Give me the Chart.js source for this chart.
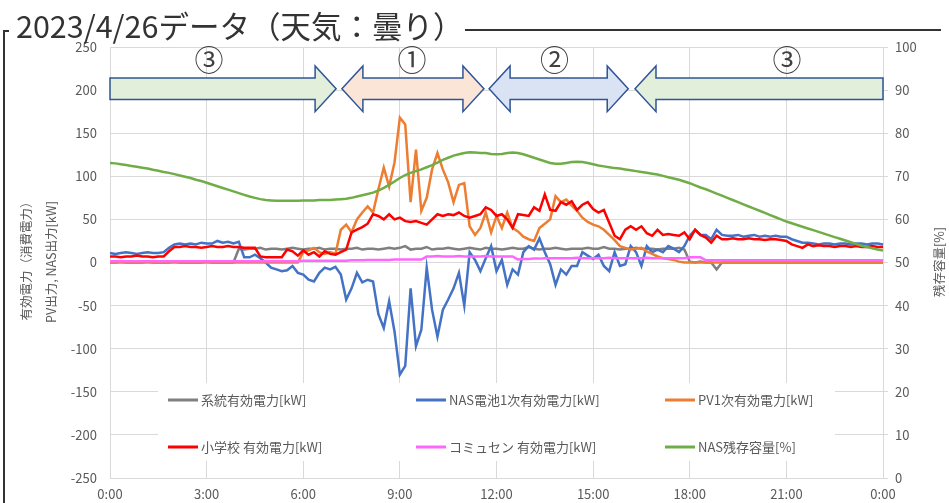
<!DOCTYPE html>
<html><head><meta charset="utf-8">
<script src="https://cdn.jsdelivr.net/npm/chart.js@4.4.0/dist/chart.umd.min.js"></script>
<style>
html,body{margin:0;padding:0;background:#fff;}
#wrap{position:relative;width:949px;height:503px;}
canvas{position:absolute;left:0;top:0;}
</style></head><body>
<div id="wrap"><canvas id="c" width="949" height="503"></canvas></div>
<script>
const timeLabels = [
"0:00","0:10","0:20","0:30","0:40","0:50","1:00","1:10","1:20","1:30","1:40","1:50",
"2:00","2:10","2:20","2:30","2:40","2:50","3:00","3:10","3:20","3:30","3:40","3:50",
"4:00","4:10","4:20","4:30","4:40","4:50","5:00","5:10","5:20","5:30","5:40","5:50",
"6:00","6:10","6:20","6:30","6:40","6:50","7:00","7:10","7:20","7:30","7:40","7:50",
"8:00","8:10","8:20","8:30","8:40","8:50","9:00","9:10","9:20","9:30","9:40","9:50",
"10:00","10:10","10:20","10:30","10:40","10:50","11:00","11:10","11:20","11:30","11:40","11:50",
"12:00","12:10","12:20","12:30","12:40","12:50","13:00","13:10","13:20","13:30","13:40","13:50",
"14:00","14:10","14:20","14:30","14:40","14:50","15:00","15:10","15:20","15:30","15:40","15:50",
"16:00","16:10","16:20","16:30","16:40","16:50","17:00","17:10","17:20","17:30","17:40","17:50",
"18:00","18:10","18:20","18:30","18:40","18:50","19:00","19:10","19:20","19:30","19:40","19:50",
"20:00","20:10","20:20","20:30","20:40","20:50","21:00","21:10","21:20","21:30","21:40","21:50",
"22:00","22:10","22:20","22:30","22:40","22:50","23:00","23:10","23:20","23:30","23:40","23:50",
"24:00"];
const xTickLabels = ["0:00","3:00","6:00","9:00","12:00","15:00","18:00","21:00","0:00"];
const leftAxisTicks = [-250,-200,-150,-100,-50,0,50,100,150,200,250];
const rightAxisTicks = [0,10,20,30,40,50,60,70,80,90,100];

const seriesNames = ["系統有効電力[kW]","NAS電池1次有効電力[kW]","PV1次有効電力[kW]","小学校 有効電力[kW]","コミュセン 有効電力[kW]","NAS残存容量[%]"];

const gridPower = [
0,0,1,0,0,0,0,1,0,0,0,0,1,0,0,0,0,0,1,0,0,0,0,0,
16,15,16,16,17,15,16,16,15,16,
17,16,15,16,16,17,15,16,16,15,
16,16,17,15,16,16,15,16,17,16,
17,19,15,16,16,18,15,16,16,17,
16,15,16,17,16,15,17,16,16,15,
16,17,16,16,18,16,15,16,16,17,
16,15,16,16,16,17,16,16,18,16,
16,15,16,16,17,16,16,16,15,16,
16,16,17,15,
1,0,1,0,0,-8,0,
0,0,0,0,0,0,0,0,0,0,0,0,0,0,0,0,0,0,0,0,0,0,0,0,0,0,0,0,0,0];

const nasPower = [
11,10,11,12,11,10,11,12,11,11,12,
17,21,22,21,22,21,23,22,22,25,23,24,22,24,
6,6,9,5,0,-6,-8,-10,-9,-4,
-12,-14,-20,-22,-12,-6,-8,-5,-14,-43,
-30,-12,-23,-20,-22,-60,-76,-45,-80,-130,
-120,-30,-97,-78,-6,-55,-86,-55,-43,-30,
-12,-50,12,3,-10,5,19,-10,3,-26,
-8,-14,12,19,15,28,12,-2,-26,-8,
-14,-4,-4,12,8,4,9,-4,-10,12,
-4,-2,19,12,-4,19,12,15,12,19,
16,12,19,31,38,32,32,27,38,32,
31,31,32,30,31,32,30,31,30,31,30,
30,27,25,23,23,
22,21,22,22,21,22,22,21,22,22,21,22,22,21];

const pvPower = [
0,0,0,0,0,0,0,0,0,0,0,0,0,0,0,0,0,0,0,0,0,0,0,0,0,0,0,0,0,0,0,0,0,0,0,0,
12,14,17,12,10,12,10,
38,44,35,50,58,65,58,85,110,88,
116,168,160,70,131,60,75,108,127,108,93,70,90,92,42,32,40,58,35,54,
40,58,40,36,30,27,25,40,45,50,
77,70,73,66,60,52,47,44,42,38,
32,26,19,17,15,16,17,13,10,7,
5,4,3,1,
0,0,0,0,0,0,0,0,0,0,0,0,0,0,0,0,0,0,0,0,0,0,0,0,0,0,0,0,0,0,0,0,0,0,0,0,0,0];

const schoolPower = [
7,7,6,7,7,8,7,7,6,7,7,
13,18,18,19,18,18,17,18,19,18,18,19,18,18,17,17,17,
7,6,6,6,6,
15,13,8,14,9,12,7,13,10,9,12,15,
35,38,41,45,56,54,50,56,50,52,
48,47,48,46,44,50,56,54,56,55,
58,54,52,54,56,64,61,54,56,50,
40,56,55,54,64,60,79,61,60,70,
67,71,61,67,70,62,58,61,46,31,
27,38,42,38,42,34,31,38,32,33,
32,31,35,27,38,32,29,23,31,27,
27,28,27,27,28,27,27,26,27,27,26,
25,21,19,17,21,
19,20,19,19,18,19,19,18,19,18,18,19,18,18];

const commuPower = [
1.5,1.5,1.5,1.5,1.5,1.5,1.5,1.5,1.5,1.5,1.5,1.5,1.5,1.5,1.5,1.5,1.5,1.5,
1.5,1.5,1.5,1.5,1.5,1.5,1.5,1.5,1.5,1.5,1.5,1.5,1.5,1.5,1.5,1.5,1.5,1.5,
2,2,2,2,2,2,2,2,2,2.5,2.5,2.5,3,3,3,3,3,3.5,3.5,3.5,3.5,3.5,3.5,
7,7,7.5,7,7,7,7.5,7,7,7,7,7.5,7,7,7,7,7,
3.5,4,4,4.5,4.5,5,5,5,
5,5,5,5.5,5,5,5,5,5,5.5,5,5,5,5,5,5,5.5,5,5,5,5,5,5,5,
6,6,6,
2.5,2.5,2.5,2.5,2.5,2.5,2.5,2.5,2.5,2.5,2.5,2.5,2.5,2.5,2.5,2.5,2.5,
2.5,2.5,2.5,2.5,2.5,2.5,2.5,2.5,2.5,2.5,2.5,2.5,2.5,2.5,2.5,2.5,2.5];

const nasSoc = [
73.1,73.0,72.8,72.6,72.4,72.2,
72.0,71.8,71.5,71.3,71.0,70.8,
70.5,70.2,69.9,69.6,69.2,68.9,
68.5,68.1,67.7,67.3,66.9,66.5,
66.1,65.7,65.3,65.0,64.7,64.5,
64.4,64.3,64.3,64.3,64.3,64.3,
64.4,64.4,64.4,64.5,64.5,64.5,
64.6,64.7,64.8,65.0,65.3,65.6,
65.9,66.2,66.7,67.3,68.0,68.8,
69.6,70.3,70.8,71.2,71.6,72.1,
72.6,73.2,73.8,74.3,74.8,75.1,
75.4,75.6,75.5,75.4,75.4,75.2,
75.1,75.2,75.4,75.5,75.4,75.1,
74.7,74.3,73.9,73.5,73.1,72.9,
72.9,73.1,73.3,73.4,73.3,73.1,
72.8,72.5,72.3,72.1,71.9,71.8,
71.6,71.4,71.2,71.0,70.8,70.6,
70.4,70.1,69.8,69.5,69.2,68.8,
68.4,67.9,67.4,67.0,66.5,66.0,
65.5,65.0,64.5,64.0,63.5,63.0,
62.5,62.0,61.5,61.0,60.5,60.0,
59.5,59.1,58.7,58.3,57.9,57.5,
57.1,56.7,56.3,55.9,55.5,55.1,
54.7,54.3,53.9,53.6,53.3,53.0,
52.8];

const seriesColors = ["#7f7f7f","#4472c4","#ed7d31","#ff0000","#ff66ff","#70ad47"];

// Annotation arrows (positions in hours / kW of the chart axes)
const phaseArrows = [
  {from:0,    to:7.02,  dir:"right", fill:"#e2efda", label:"③", labelAt:3.07},
  {from:7.2,  to:11.61, dir:"both",  fill:"#fbe5d6", label:"①", labelAt:9.38},
  {from:11.77,to:16.09, dir:"both",  fill:"#dae3f3", label:"②", labelAt:13.8},
  {from:16.3, to:24,    dir:"left",  fill:"#e2efda", label:"③", labelAt:21.02}
];
const arrowBody = [189, 214];
const arrowHead = [175, 228];
const arrowLabelY = 235;

const FONT = "'Noto Sans CJK JP','Noto Sans',sans-serif";
const TXT = "#595959";

function arrowPath(ctx, x1, x2, yT, yB, hT, hB, hl, dir){
  const ym = (yT+yB)/2;
  ctx.beginPath();
  if(dir==="right"){
    ctx.moveTo(x1,yT); ctx.lineTo(x2-hl,yT); ctx.lineTo(x2-hl,hT); ctx.lineTo(x2,ym);
    ctx.lineTo(x2-hl,hB); ctx.lineTo(x2-hl,yB); ctx.lineTo(x1,yB);
  } else if(dir==="left"){
    ctx.moveTo(x2,yT); ctx.lineTo(x1+hl,yT); ctx.lineTo(x1+hl,hT); ctx.lineTo(x1,ym);
    ctx.lineTo(x1+hl,hB); ctx.lineTo(x1+hl,yB); ctx.lineTo(x2,yB);
  } else {
    ctx.moveTo(x1,ym); ctx.lineTo(x1+hl,hT); ctx.lineTo(x1+hl,yT); ctx.lineTo(x2-hl,yT);
    ctx.lineTo(x2-hl,hT); ctx.lineTo(x2,ym); ctx.lineTo(x2-hl,hB); ctx.lineTo(x2-hl,yB);
    ctx.lineTo(x1+hl,yB); ctx.lineTo(x1+hl,hB);
  }
  ctx.closePath();
}

const decor = {
  id: "decor",
  beforeDatasetsDraw(chart){
    const ctx = chart.ctx;
    ctx.save();
    ctx.fillStyle = "#ffffff";
    ctx.fillRect(158, 383, 677, 78);
    const cols = [168, 416, 665], rows = [400, 447];
    ctx.font = "13px " + FONT;
    ctx.textBaseline = "middle";
    ctx.textAlign = "left";
    seriesNames.forEach((name, i) => {
      const x = cols[i % 3], y = rows[Math.floor(i / 3)];
      ctx.strokeStyle = seriesColors[i];
      ctx.lineWidth = 3;
      ctx.beginPath(); ctx.moveTo(x, y); ctx.lineTo(x + 30, y); ctx.stroke();
      ctx.fillStyle = TXT;
      ctx.fillText(name, x + 33, y);
    });
    ctx.restore();
  },
  afterDraw(chart){
    const ctx = chart.ctx;
    const xs = chart.scales.x, ys = chart.scales.y;
    ctx.save();
    // arrows
    phaseArrows.forEach(a => {
      const x1 = xs.getPixelForValue(a.from * 6), x2 = xs.getPixelForValue(a.to * 6);
      arrowPath(ctx, x1, x2, ys.getPixelForValue(arrowBody[1]), ys.getPixelForValue(arrowBody[0]),
        ys.getPixelForValue(arrowHead[1]), ys.getPixelForValue(arrowHead[0]), 21, a.dir);
      ctx.fillStyle = a.fill; ctx.fill();
      ctx.strokeStyle = "#2f5597"; ctx.lineWidth = 1.5; ctx.stroke();
      ctx.fillStyle = "#404040";
      ctx.font = "29px " + FONT;
      ctx.textAlign = "center"; ctx.textBaseline = "middle";
      ctx.fillText(a.label, xs.getPixelForValue(a.labelAt * 6), ys.getPixelForValue(arrowLabelY));
    });
    // axis titles
    ctx.fillStyle = TXT;
    ctx.font = "12.5px " + FONT;
    ctx.textAlign = "center"; ctx.textBaseline = "middle";
    ctx.save(); ctx.translate(26, 258); ctx.rotate(-Math.PI/2); ctx.fillText("有効電力（消費電力）", 0, 0); ctx.restore();
    ctx.save(); ctx.translate(51, 262); ctx.rotate(-Math.PI/2); ctx.fillText("PV出力, NAS出力[kW]", 0, 0); ctx.restore();
    ctx.save(); ctx.translate(939, 262); ctx.rotate(-Math.PI/2); ctx.fillText("残存容量[%]", 0, 0); ctx.restore();
    // title and frame
    ctx.fillStyle = "#333333";
    ctx.font = "30.5px " + FONT;
    ctx.textAlign = "left"; ctx.textBaseline = "alphabetic";
    ctx.fillText("2023/4/26データ（天気：曇り）", 16, 38);
    ctx.strokeStyle = "#333333"; ctx.lineWidth = 2;
    ctx.beginPath(); ctx.moveTo(465, 30); ctx.lineTo(941, 30); ctx.stroke();
    ctx.beginPath(); ctx.moveTo(9, 31); ctx.lineTo(4, 31); ctx.lineTo(4, 503); ctx.stroke();
    ctx.restore();
  }
};

const tickFont = {family: FONT, size: 13};

new Chart(document.getElementById("c"), {
  type: "line",
  data: {
    labels: timeLabels,
    datasets: [
      {label: seriesNames[0], data: gridPower,   borderColor: seriesColors[0], yAxisID: "y",  order: 5},
      {label: seriesNames[1], data: nasPower,    borderColor: seriesColors[1], yAxisID: "y",  order: 4},
      {label: seriesNames[2], data: pvPower,     borderColor: seriesColors[2], yAxisID: "y",  order: 3},
      {label: seriesNames[3], data: schoolPower, borderColor: seriesColors[3], yAxisID: "y",  order: 2},
      {label: seriesNames[4], data: commuPower,  borderColor: seriesColors[4], yAxisID: "y",  order: 1},
      {label: seriesNames[5], data: nasSoc,      borderColor: seriesColors[5], yAxisID: "y1", order: 0}
    ]
  },
  options: {
    responsive: false, animation: false, devicePixelRatio: 1,
    layout: {padding: {top: 47, left: 0, right: 0, bottom: 0}},
    elements: {point: {radius: 0}, line: {borderWidth: 2.5, tension: 0}},
    plugins: {legend: {display: false}, tooltip: {enabled: false}},
    scales: {
      x: {
        type: "category", offset: false,
        grid: {color: c => (c.index % 18 === 0 ? "#d9d9d9" : "rgba(0,0,0,0)"), drawTicks: false},
        border: {color: "#d9d9d9"},
        ticks: {autoSkip: false, maxRotation: 0, minRotation: 0, padding: 8, color: TXT, font: tickFont,
          callback: (v, i) => (i % 18 === 0 ? xTickLabels[i / 18] : "")},
        afterFit: s => { s.height = 25; }
      },
      y: {
        position: "left",
        min: leftAxisTicks[0], max: leftAxisTicks[leftAxisTicks.length - 1],
        grid: {color: "#d9d9d9", drawTicks: false},
        border: {color: "#d9d9d9"},
        ticks: {stepSize: leftAxisTicks[1] - leftAxisTicks[0], padding: 13, color: TXT, font: tickFont},
        afterFit: s => { s.width = 110; }
      },
      y1: {
        position: "right",
        min: rightAxisTicks[0], max: rightAxisTicks[rightAxisTicks.length - 1],
        grid: {drawOnChartArea: false, color: "#d9d9d9", tickLength: 5},
        border: {color: "#d9d9d9"},
        ticks: {stepSize: rightAxisTicks[1] - rightAxisTicks[0], padding: 7, color: TXT, font: tickFont},
        afterFit: s => { s.width = 66; }
      }
    }
  },
  plugins: [decor]
});
</script></body></html>
